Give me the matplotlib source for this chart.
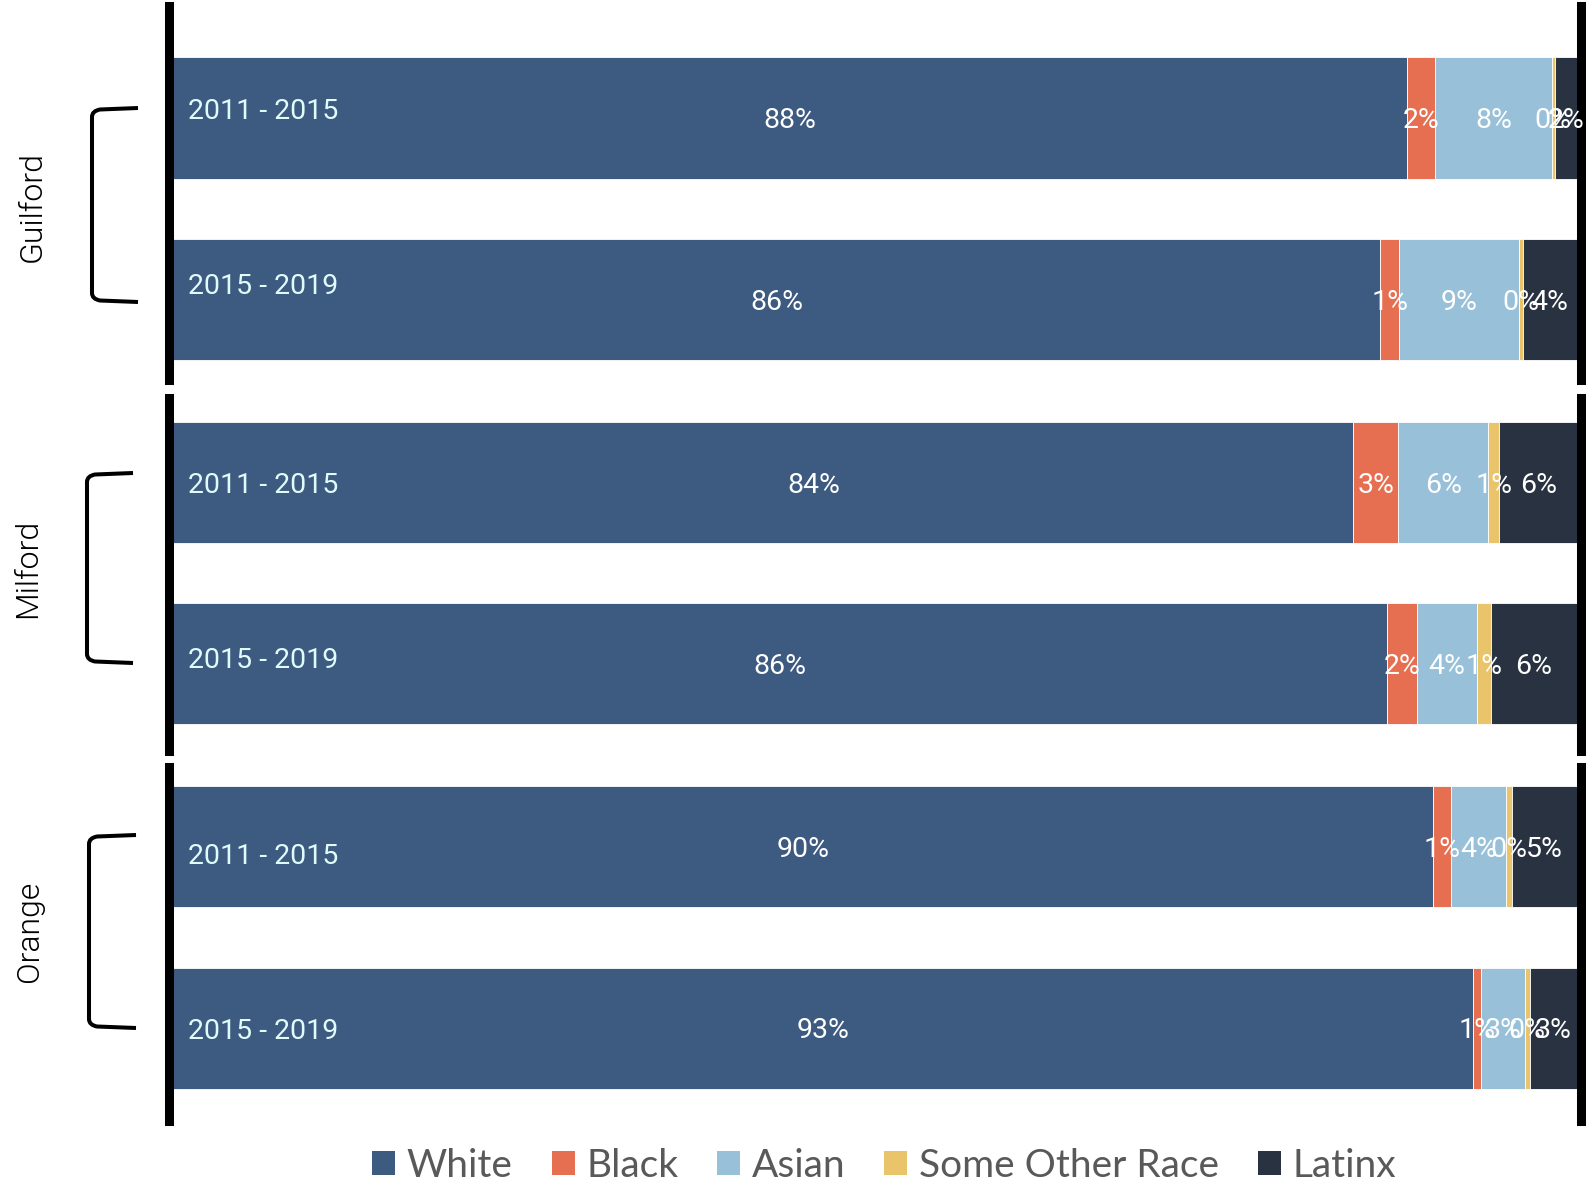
import matplotlib.pyplot as plt
from matplotlib.patches import Patch, PathPatch
from matplotlib.path import Path

counties = ["Guilford", "Milford", "Orange"]
periods = ["2011 - 2015", "2015 - 2019"]
races = ["White", "Black", "Asian", "Some Other Race", "Latinx"]

# one entry per bar: Guilford 11-15, Guilford 15-19, Milford ..., Orange ...
white = [87.89, 85.99, 84.08, 86.45, 89.75, 92.60]
black = [2.00, 1.35, 3.20, 2.15, 1.30, 0.57]
asian = [8.30, 8.56, 6.40, 4.25, 3.90, 3.13]
other = [0.25, 0.26, 0.80, 1.00, 0.45, 0.33]
latinx = [1.56, 3.84, 5.52, 6.15, 4.60, 3.37]

colors = ["#3D5A80", "#E76F51", "#98C1D9", "#E9C46A", "#293241"]

W, H = 1593, 1179
fig = plt.figure(figsize=(W / 100, H / 100), dpi=100)


def fx(px):
    return px / W


def fy(py):
    return 1 - py / H


# panel frames in pixels (top, bottom) and padding around the two bars
panels = [(6, 380), (398, 751), (767, 1121)]
pads = [(0.617, 0.443), (0.467, 0.483), (0.438, 0.512)]
year_offsets = [(-9.5, -15.5), (0, -5.5), (7.5, 1)]
x0, x1 = 173, 1577

series = [white, black, asian, other, latinx]

for p, county in enumerate(counties):
    top, bot = panels[p]
    ax = fig.add_axes([fx(x0), fy(bot), fx(x1) - fx(x0), (bot - top) / H])
    idx = [2 * p, 2 * p + 1]
    left = [0, 0]
    for s, vals in enumerate(series):
        v = [vals[i] for i in idx]
        bars = ax.barh([0, 1], v, left=left, height=0.667, color=colors[s],
                       edgecolor="white", linewidth=0.6)
        texts = ax.bar_label(bars, labels=[f"{x:.0f}%" for x in v], label_type="center",
                             color="white", fontsize=20.5, family="Roboto")
        for t in texts:
            dx, dy = t.xyann
            t.xyann = (dx, dy - 2)
        # the Milford 2011-2015 white label sits right of centre
        if p == 1 and s == 0:
            dx, dy = texts[0].xyann
            texts[0].xyann = (dx + 36.5, dy)
        left = [left[k] + v[k] for k in range(2)]
    for k, per in enumerate(periods):
        ax.annotate(per, xy=(0, k), xytext=(15, -year_offsets[p][k] - 10),
                    textcoords="offset pixels", color="#E0FBFC", fontsize=20.5,
                    family="Roboto", va="baseline", ha="left")
    ax.set_xlim(0, 100)
    ax.set_ylim(1 + pads[p][1], -pads[p][0])
    for side in ["top", "bottom"]:
        ax.spines[side].set_visible(False)
    for side in ["left", "right"]:
        ax.spines[side].set_linewidth(6.5)
        ax.spines[side].set_color("black")
    ax.spines["left"].set_position(("outward", 3.2))
    ax.spines["right"].set_position(("outward", 2.9))
    ax.set_xticks([])
    ax.set_yticks([])
    ax.patch.set_alpha(0)

# brackets and county names on the left
brackets = [(92, 138, 108, 302), (87, 133, 473, 663), (89, 136, 835, 1028)]
name_pos = [(32, 206), (28, 568), (30, 931)]
for (xv, xe, yt, yb), (nx, ny), county in zip(brackets, name_pos, counties):
    verts = [(xe, yt), (xv + 8, yt + 1.5), (xv, yt + 3), (xv, yt + 9),
             (xv, yb - 9), (xv, yb - 3), (xv + 8, yb - 1.5), (xe, yb)]
    codes = [Path.MOVETO, Path.LINETO, Path.CURVE3, Path.CURVE3,
             Path.LINETO, Path.CURVE3, Path.CURVE3, Path.LINETO]
    path = Path([(fx(a), fy(b)) for a, b in verts], codes)
    fig.add_artist(PathPatch(path, fill=False, lw=2.9, color="black",
                             transform=fig.transFigure))
    fig.text(fx(nx), fy(ny), county, rotation=90, ha="center", va="center",
             fontsize=23, family="Roboto", fontweight=300, color="black")

handles = [Patch(facecolor=c, edgecolor="none") for c in colors]
fig.legend(handles, races, loc="lower center", bbox_to_anchor=(0.555, -0.004),
           ncol=5, frameon=False, prop={"family": "Lato", "size": 28},
           labelcolor="#595959", handlelength=0.59, handleheight=0.59,
           handletextpad=0.3, columnspacing=1.0, borderpad=0, borderaxespad=0)

fig.savefig("out.png", dpi=100)
